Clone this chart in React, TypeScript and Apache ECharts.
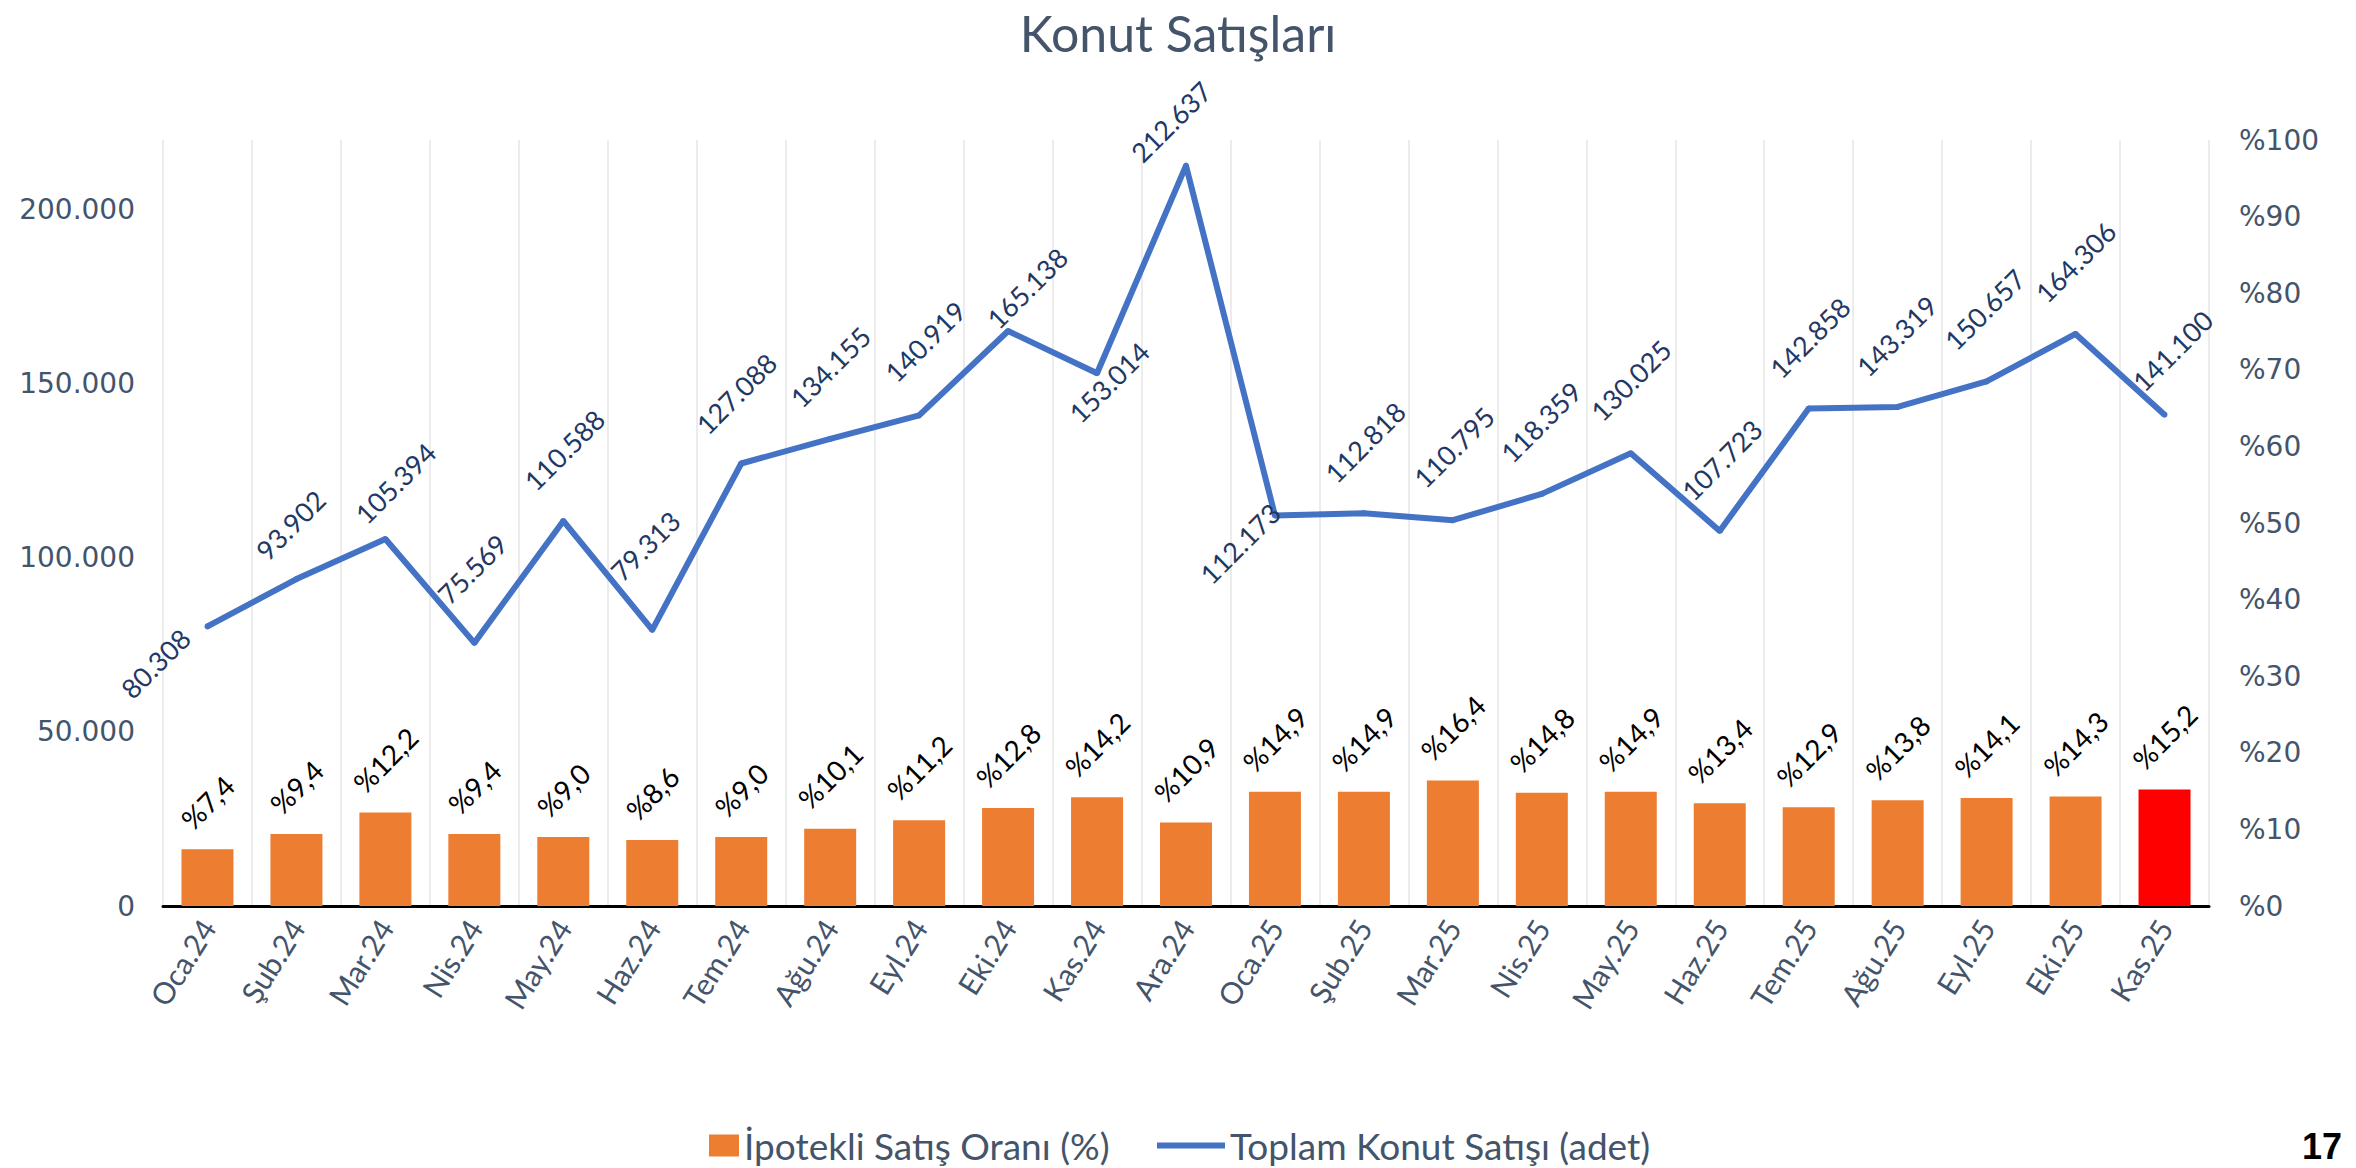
import React, { useEffect, useRef } from 'react';
import * as echarts from 'echarts';

const months = ['Oca.24', 'Şub.24', 'Mar.24', 'Nis.24', 'May.24', 'Haz.24', 'Tem.24', 'Ağu.24', 'Eyl.24', 'Eki.24', 'Kas.24', 'Ara.24', 'Oca.25', 'Şub.25', 'Mar.25', 'Nis.25', 'May.25', 'Haz.25', 'Tem.25', 'Ağu.25', 'Eyl.25', 'Eki.25', 'Kas.25'];
const totalSales = [80308, 93902, 105394, 75569, 110588, 79313, 127088, 134155, 140919, 165138, 153014, 212637, 112173, 112818, 110795, 118359, 130025, 107723, 142858, 143319, 150657, 164306, 141100];
const mortgageShare = [7.4, 9.4, 12.2, 9.4, 9.0, 8.6, 9.0, 10.1, 11.2, 12.8, 14.2, 10.9, 14.9, 14.9, 16.4, 14.8, 14.9, 13.4, 12.9, 13.8, 14.1, 14.3, 15.2];

const barName = 'İpotekli Satış Oranı (%)';
const lineName = 'Toplam Konut Satışı (adet)';
const titleText = 'Konut Satışları';

// label placement nudges (layout only): screen offset of each line label's centre from its point
const lineLabelNudge: [number, number][] = [
  [-52, 37], [-6, -54], [10, -56], [-2, -74], [1, -71], [-7, -84], [-5, -70], [0, -72], [6, -74], [19, -43],
  [12, 9], [-15, -44], [-35, 28], [1, -71], [1, -73], [-1, -72], [0, -73], [2, -71], [1, -71], [-1, -71],
  [-2, -72], [0, -72], [8, -64],
];

const ROT = 45;
const C = Math.cos((ROT * Math.PI) / 180);
const S = Math.sin((ROT * Math.PI) / 180);
// ECharts applies label offset in the label's rotated frame: convert a screen offset into it
const toLabelFrame = (X: number, Y: number): [number, number] => [X * C - Y * S, X * S + Y * C];

const fmtThousands = (v: number) => String(Math.round(v)).replace(/\B(?=(\d{3})+(?!\d))/g, '.');
const fmtPct = (v: number) => '%' + v.toFixed(1).replace('.', ',');

export default function App() {
  const ref = useRef<HTMLDivElement>(null);
  useEffect(() => {
    if (!ref.current) return;
    const chart = echarts.init(ref.current, null, { renderer: 'svg' });
    const barFont = 28;
    const canvas = document.createElement('canvas');
    const ctx = canvas.getContext('2d')!;
    ctx.font = `${barFont}px Lato`;
    const last = mortgageShare.length - 1;
    const barData = mortgageShare.map((v, i) => {
      const w = ctx.measureText(fmtPct(v)).width;
      const half = ((w + barFont * 0.75) * Math.SQRT1_2) / 2;
      return {
        value: v,
        itemStyle: { color: i === last ? '#ff0000' : '#ed7d31' },
        label: { offset: toLabelFrame(0, -(18 + half)) },
      };
    });
    const lineData = totalSales.map((v, i) => {
      const n = lineLabelNudge[i] || [0, -72];
      return { value: v, label: { offset: toLabelFrame(n[0], n[1]) } };
    });

    chart.setOption({
      animation: false,
      backgroundColor: '#ffffff',
      textStyle: { fontFamily: 'Lato' },
      title: {
        text: titleText,
        left: 'center',
        top: 8,
        padding: 0,
        textStyle: { fontFamily: 'Lato', fontSize: 50, fontWeight: 'normal', color: '#44546a' },
      },
      grid: { left: 163, right: 147, top: 140, bottom: 262, containLabel: false },
      legend: [
        {
          data: [{ name: barName, icon: 'rect' }],
          left: 709,
          bottom: 4,
          padding: 0,
          itemWidth: 30,
          itemHeight: 22,
          textStyle: { fontFamily: 'Lato', fontSize: 37, color: '#44546a' },
        },
        {
          data: [{ name: lineName, icon: 'rect' }],
          left: 1157,
          bottom: 4,
          padding: 0,
          itemWidth: 68,
          itemHeight: 6,
          textStyle: { fontFamily: 'Lato', fontSize: 37, color: '#44546a' },
        },
      ],
      xAxis: {
        type: 'category',
        data: months,
        boundaryGap: true,
        axisLine: { show: true, lineStyle: { color: '#000000', width: 3 } },
        axisTick: { show: false },
        splitLine: { show: true, interval: 0, lineStyle: { color: '#ececec', width: 2 } },
        axisLabel: {
          interval: 0,
          rotate: 58,
          margin: 16,
          fontSize: 30,
          fontFamily: 'Lato',
          color: '#44546a',
        },
      },
      yAxis: [
        {
          type: 'value',
          min: 0,
          max: 220000,
          interval: 50000,
          axisLine: { show: false },
          axisTick: { show: false },
          splitLine: { show: false },
          axisLabel: {
            showMaxLabel: false,
            margin: 28,
            fontSize: 28,
            fontFamily: 'DejaVu Sans',
            color: '#44546a',
            formatter: (v: number) => fmtThousands(v),
          },
        },
        {
          type: 'value',
          position: 'right',
          min: 0,
          max: 100,
          interval: 10,
          axisLine: { show: false },
          axisTick: { show: false },
          splitLine: { show: false },
          axisLabel: {
            margin: 30,
            fontSize: 28,
            fontFamily: 'DejaVu Sans',
            color: '#44546a',
            formatter: (v: number) => '%' + v,
          },
        },
      ],
      series: [
        {
          name: barName,
          type: 'bar',
          yAxisIndex: 1,
          barWidth: 52,
          itemStyle: { color: '#ed7d31' },
          data: barData,
          label: {
            show: true,
            position: 'top',
            distance: 0,
            rotate: ROT,
            align: 'center',
            verticalAlign: 'middle',
            fontSize: barFont,
            fontFamily: 'Lato',
            color: '#000000',
            formatter: (p: any) => fmtPct(p.value),
          },
          z: 2,
        },
        {
          name: lineName,
          type: 'line',
          yAxisIndex: 0,
          data: lineData,
          symbol: 'circle',
          symbolSize: 6,
          showSymbol: true,
          lineStyle: { width: 6, color: '#4472c4' },
          itemStyle: { color: '#4472c4' },
          label: {
            show: true,
            position: 'inside',
            rotate: ROT,
            align: 'center',
            verticalAlign: 'middle',
            fontSize: 27,
            fontFamily: 'Lato',
            color: '#1f3864',
            formatter: (p: any) => fmtThousands(p.value),
          },
          z: 3,
        },
      ],
      graphic: [
        {
          type: 'text',
          right: 14,
          bottom: 4,
          style: { text: '17', font: 'bold 36px "Liberation Sans", Arial, sans-serif', fill: '#000000' },
        },
      ],
    });
    return () => chart.dispose();
  }, []);
  return <div ref={ref} style={{ position: 'fixed', left: 0, top: 0, width: 2356, height: 1168 }} />;
}
